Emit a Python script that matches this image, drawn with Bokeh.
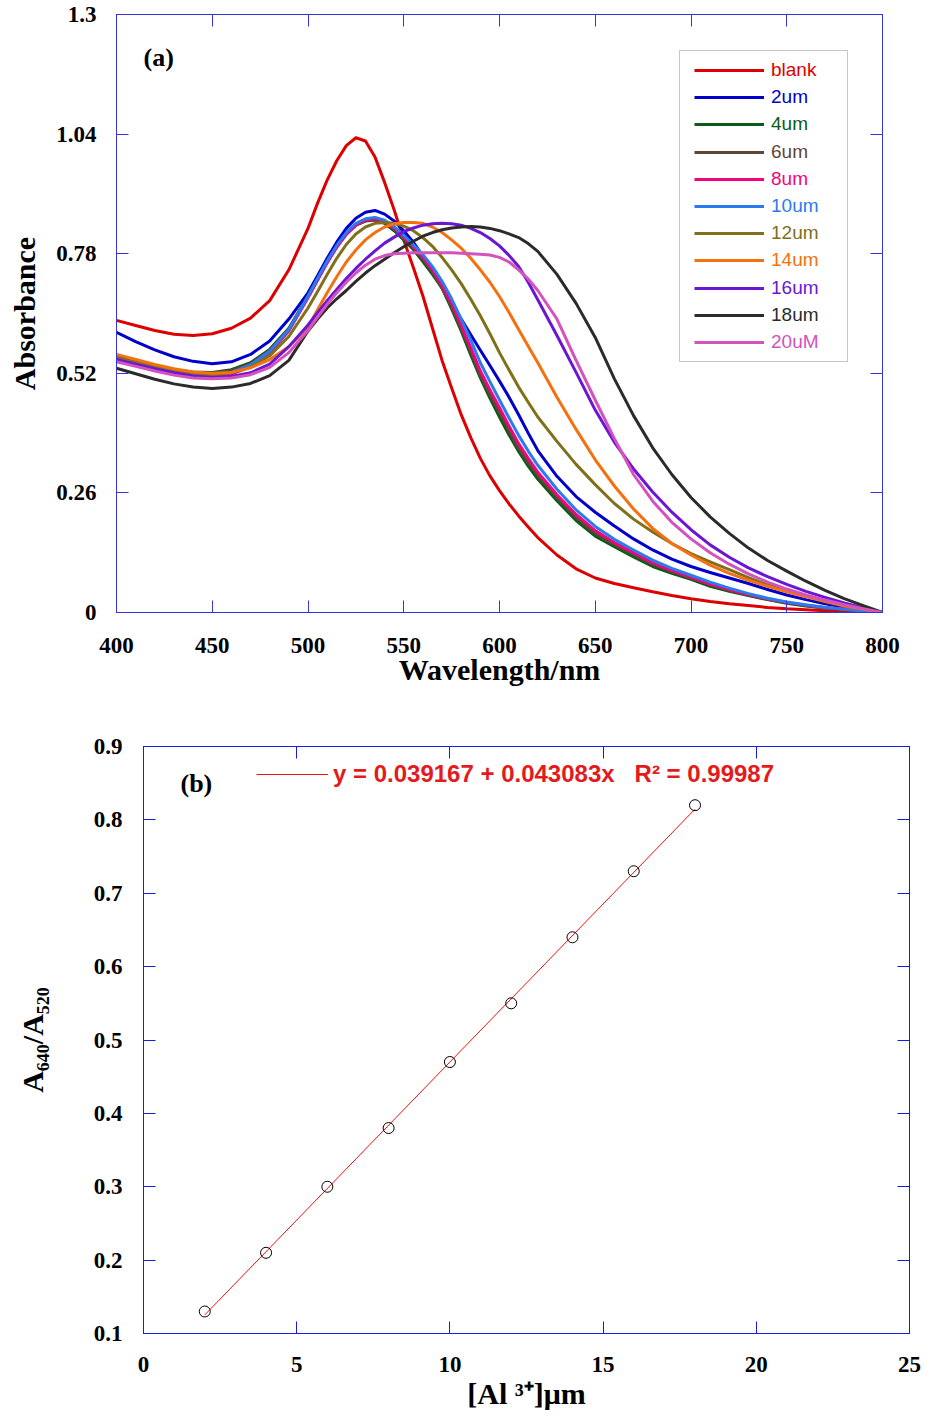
from bokeh.plotting import figure
from bokeh.models import (LinearAxis, FixedTicker, CustomJSTickFormatter, Label,
                          Legend, LegendItem, BoxAnnotation, ColumnDataSource)
from bokeh.layouts import column
from bokeh.embed import file_html
from bokeh.resources import INLINE

# ---------------- data : panel (a) ----------------
wavelength = [400, 410, 420, 430, 440, 450, 460, 470, 480, 490,
              500, 505, 510, 515, 520, 525, 530, 535, 540, 545, 550, 555, 560, 565, 570,
              575, 580, 585, 590, 595, 600, 605, 610, 615, 620,
              630, 640, 650, 660, 670, 680, 690, 700, 710, 720, 730, 740, 750, 760, 770,
              780, 790, 800]

series_names = ["blank", "2um", "4um", "6um", "8um", "10um", "12um", "14um", "16um", "18um", "20uM"]
series_colors = ["#dd0000", "#0000cc", "#0a5c16", "#5e4639", "#f0047f", "#2b7bf0",
                 "#80701a", "#f5700f", "#6a17d4", "#2b2b2b", "#d452be"]

blank = [0.635, 0.624, 0.613, 0.605, 0.602, 0.606, 0.618, 0.640, 0.678, 0.745,
         0.835, 0.890, 0.940, 0.982, 1.015, 1.032, 1.025, 0.990, 0.935, 0.875, 0.810, 0.750,
         0.688, 0.618, 0.548, 0.488, 0.430, 0.380, 0.335, 0.297, 0.265, 0.236, 0.210, 0.186,
         0.163,
         0.125, 0.095, 0.075, 0.063, 0.054, 0.045, 0.037, 0.030, 0.024, 0.019, 0.015, 0.011,
         0.008, 0.006, 0.004, 0.003, 0.0015, 0.0]
um2 = [0.609, 0.589, 0.571, 0.556, 0.546, 0.541, 0.545, 0.561, 0.590, 0.638,
       0.695, 0.732, 0.770, 0.805, 0.835, 0.857, 0.870, 0.874, 0.866, 0.851, 0.830, 0.805,
       0.775, 0.742, 0.708, 0.673, 0.638, 0.604, 0.570, 0.537, 0.503, 0.468, 0.430, 0.390,
       0.352,
       0.296, 0.252, 0.218, 0.188, 0.160, 0.136, 0.116, 0.100, 0.087, 0.075, 0.063, 0.050,
       0.038, 0.028, 0.019, 0.012, 0.006, 0.0]
um4 = [0.557, 0.546, 0.536, 0.528, 0.523, 0.522, 0.528, 0.543, 0.572, 0.618,
       0.688, 0.726, 0.763, 0.796, 0.823, 0.842, 0.851, 0.853, 0.846, 0.830, 0.810, 0.789,
       0.763, 0.735, 0.705, 0.660, 0.612, 0.560, 0.510, 0.466, 0.425, 0.386, 0.350, 0.318,
       0.290,
       0.243, 0.200, 0.166, 0.143, 0.121, 0.100, 0.085, 0.072, 0.057, 0.046, 0.037, 0.028,
       0.020, 0.014, 0.010, 0.007, 0.003, 0.0]
um6 = [0.555, 0.544, 0.534, 0.526, 0.521, 0.520, 0.526, 0.541, 0.570, 0.616,
       0.686, 0.724, 0.762, 0.795, 0.823, 0.842, 0.852, 0.854, 0.848, 0.833, 0.813, 0.793,
       0.768, 0.740, 0.705, 0.665, 0.617, 0.567, 0.515, 0.474, 0.435, 0.395, 0.357, 0.326,
       0.298,
       0.250, 0.207, 0.172, 0.148, 0.126, 0.105, 0.089, 0.075, 0.060, 0.048, 0.038, 0.029,
       0.021, 0.015, 0.010, 0.007, 0.003, 0.0]
um8 = [0.548, 0.538, 0.528, 0.520, 0.514, 0.512, 0.518, 0.534, 0.564, 0.612,
       0.684, 0.722, 0.760, 0.794, 0.822, 0.842, 0.853, 0.856, 0.850, 0.836, 0.816, 0.796,
       0.772, 0.745, 0.712, 0.672, 0.625, 0.576, 0.525, 0.484, 0.445, 0.405, 0.367, 0.335,
       0.305,
       0.256, 0.213, 0.178, 0.152, 0.130, 0.108, 0.091, 0.077, 0.062, 0.050, 0.039, 0.030,
       0.022, 0.016, 0.011, 0.007, 0.003, 0.0]
um10 = [0.552, 0.541, 0.531, 0.523, 0.518, 0.517, 0.522, 0.538, 0.568, 0.615,
        0.688, 0.726, 0.764, 0.798, 0.826, 0.846, 0.856, 0.859, 0.853, 0.839, 0.820, 0.800,
        0.778, 0.752, 0.720, 0.682, 0.638, 0.592, 0.543, 0.502, 0.462, 0.423, 0.385, 0.351,
        0.320,
        0.268, 0.223, 0.187, 0.159, 0.136, 0.114, 0.096, 0.081, 0.066, 0.053, 0.041, 0.031,
        0.023, 0.017, 0.011, 0.007, 0.003, 0.0]
um12 = [0.553, 0.543, 0.533, 0.525, 0.519, 0.517, 0.521, 0.533, 0.558, 0.600,
        0.662, 0.698, 0.735, 0.770, 0.800, 0.823, 0.838, 0.846, 0.848, 0.846, 0.840, 0.830,
        0.815, 0.796, 0.772, 0.745, 0.715, 0.681, 0.645, 0.606, 0.565, 0.527, 0.490, 0.457,
        0.425,
        0.372, 0.322, 0.278, 0.237, 0.203, 0.175, 0.150, 0.128, 0.110, 0.093, 0.076, 0.060,
        0.047, 0.037, 0.026, 0.016, 0.008, 0.0]
um14 = [0.561, 0.550, 0.539, 0.530, 0.523, 0.520, 0.522, 0.532, 0.550, 0.578,
        0.620, 0.658, 0.695, 0.730, 0.762, 0.788, 0.810, 0.826, 0.838, 0.845, 0.848, 0.848,
        0.846, 0.838, 0.826, 0.810, 0.792, 0.770, 0.745, 0.718, 0.687, 0.652, 0.615, 0.579,
        0.543,
        0.468, 0.398, 0.332, 0.275, 0.225, 0.183, 0.150, 0.125, 0.103, 0.085, 0.070, 0.057,
        0.045, 0.034, 0.024, 0.014, 0.007, 0.0]
um16 = [0.550, 0.540, 0.530, 0.521, 0.514, 0.511, 0.513, 0.521, 0.540, 0.578,
        0.625, 0.652, 0.678, 0.702, 0.726, 0.748, 0.768, 0.786, 0.803, 0.816, 0.828, 0.836,
        0.842, 0.845, 0.846, 0.845, 0.842, 0.835, 0.826, 0.813, 0.797, 0.776, 0.752, 0.718,
        0.680,
        0.602, 0.522, 0.440, 0.370, 0.312, 0.262, 0.218, 0.180, 0.147, 0.120, 0.097, 0.078,
        0.061, 0.046, 0.033, 0.021, 0.010, 0.0]
um18 = [0.531, 0.519, 0.507, 0.497, 0.490, 0.487, 0.490, 0.498, 0.515, 0.548,
        0.612, 0.638, 0.662, 0.682, 0.700, 0.720, 0.738, 0.754, 0.768, 0.782, 0.795, 0.807,
        0.818, 0.826, 0.832, 0.836, 0.838, 0.839, 0.838, 0.835, 0.830, 0.823, 0.815, 0.802,
        0.785,
        0.735, 0.672, 0.598, 0.508, 0.428, 0.358, 0.300, 0.250, 0.208, 0.172, 0.140, 0.113,
        0.090, 0.068, 0.048, 0.030, 0.015, 0.0]
um20 = [0.545, 0.535, 0.525, 0.516, 0.510, 0.508, 0.510, 0.517, 0.533, 0.565,
        0.613, 0.642, 0.670, 0.695, 0.718, 0.738, 0.755, 0.768, 0.776, 0.780, 0.781, 0.782,
        0.782, 0.782, 0.782, 0.782, 0.781, 0.780, 0.779, 0.777, 0.772, 0.762, 0.745, 0.725,
        0.700,
        0.638, 0.548, 0.462, 0.378, 0.300, 0.242, 0.196, 0.160, 0.130, 0.105, 0.084, 0.066,
        0.051, 0.038, 0.027, 0.017, 0.008, 0.0]

series_values = [blank, um2, um4, um6, um8, um10, um12, um14, um16, um18, um20]
for s in series_values:
    assert len(s) == len(wavelength), len(s)

a_xticks = [400, 450, 500, 550, 600, 650, 700, 750, 800]
a_yticks = [0, 0.26, 0.52, 0.78, 1.04, 1.3]

# ---------------- data : panel (b) ----------------
conc = [2, 4, 6, 8, 10, 12, 14, 16, 18]
ratio = [0.13, 0.21, 0.30, 0.38, 0.47, 0.55, 0.64, 0.73, 0.82]
fit_intercept = 0.039167
fit_slope = 0.043083
fit_r2 = 0.99987
b_xticks = [0, 5, 10, 15, 20, 25]
b_yticks = [0.1, 0.2, 0.3, 0.4, 0.5, 0.6, 0.7, 0.8, 0.9]

SERIF = "Liberation Serif"
SANS = "Liberation Sans"
TICK_FS = "23px"
RED = "#e41a1c"


def style_main_axis(ax, color, ticks, fmt_code, standoff):
    ax.ticker = FixedTicker(ticks=ticks)
    ax.formatter = CustomJSTickFormatter(code=fmt_code)
    ax.axis_line_color = color
    ax.major_tick_line_color = color
    ax.major_tick_in = 12
    ax.major_tick_out = 0
    ax.minor_tick_line_color = None
    ax.major_label_text_font = SERIF
    ax.major_label_text_font_style = "bold"
    ax.major_label_text_font_size = TICK_FS
    ax.major_label_text_color = "black"
    ax.major_label_standoff = standoff
    ax.axis_label_text_font = SERIF
    ax.axis_label_text_font_style = "bold"
    ax.axis_label_text_font_size = "30px"
    ax.axis_label_text_color = "black"


def add_mirror_axis(p, place, color, ticks):
    ax = LinearAxis(ticker=FixedTicker(ticks=ticks),
                    formatter=CustomJSTickFormatter(code="return '';"))
    ax.axis_line_color = color
    ax.major_tick_line_color = color
    ax.major_tick_in = 12
    ax.major_tick_out = 0
    ax.minor_tick_line_color = None
    ax.major_label_text_font_size = "0px"
    ax.major_label_standoff = 0
    p.add_layout(ax, place)


# ================= panel (a) =================
A_COL = "#3434d8"
p1 = figure(frame_width=766, frame_height=598, x_range=(400, 800), y_range=(0, 1.3),
            output_backend="svg", toolbar_location=None,
            min_border_left=116, min_border_right=43, min_border_top=14, min_border_bottom=78)
p1.frame_align = False
p1.grid.visible = False
p1.outline_line_color = A_COL
p1.background_fill_color = "white"
p1.border_fill_color = "white"

style_main_axis(p1.xaxis[0], A_COL, a_xticks, "return tick.toFixed(0);", 25)
style_main_axis(p1.yaxis[0], A_COL, a_yticks,
                "return tick == 0 ? '0' : (Math.round(tick*100)/100).toString();", 20)
p1.xaxis.axis_label = "Wavelength/nm"
p1.yaxis.axis_label = "Absorbance"
p1.xaxis.axis_label_standoff = -3
p1.yaxis.axis_label_standoff = 12
add_mirror_axis(p1, "above", A_COL, a_xticks)
add_mirror_axis(p1, "right", A_COL, a_yticks)

src = ColumnDataSource(dict(wl=wavelength, **{n: v for n, v in zip(series_names, series_values)}))
renderers = []
for n, c in zip(series_names, series_colors):
    r = p1.line(x="wl", y=n, source=src, line_width=3, line_color=c, line_join="round")
    renderers.append(r)

# legend box + one legend per entry (each with its own text colour)
p1.add_layout(BoxAnnotation(left=563, right=731, bottom=251, top=562,
                            left_units="screen", right_units="screen",
                            top_units="screen", bottom_units="screen",
                            fill_alpha=0, line_color="#444444", line_width=1))
for i, (n, c, r) in enumerate(zip(series_names, series_colors, renderers)):
    leg = Legend(items=[LegendItem(label=n, renderers=[r])], location=(578, 531 - 27.2 * i),
                 padding=0, spacing=0, margin=0, border_line_color=None,
                 background_fill_alpha=0, glyph_width=70, glyph_height=20,
                 label_height=20, label_standoff=7, label_text_color=c,
                 label_text_font=SANS, label_text_font_size="19px")
    p1.add_layout(leg)

p1.add_layout(Label(x=27, y=555, x_units="screen", y_units="screen", text="(a)",
                    text_font=SERIF, text_font_style="bold", text_font_size="26px",
                    text_color="black", text_baseline="alphabetic"))

# ================= panel (b) =================
B_COL = "#1a1ae6"
p2 = figure(frame_width=766, frame_height=587, x_range=(0, 25), y_range=(0.1, 0.9),
            output_backend="svg", toolbar_location=None,
            min_border_left=143, min_border_right=16, min_border_top=56, min_border_bottom=81)
p2.frame_align = False
p2.grid.visible = False
p2.outline_line_color = B_COL
p2.background_fill_color = "white"
p2.border_fill_color = "white"
style_main_axis(p2.xaxis[0], B_COL, b_xticks, "return tick.toFixed(0);", 23)
style_main_axis(p2.yaxis[0], B_COL, b_yticks, "return tick.toFixed(1);", 21)
p2.xaxis.axis_label = "[Al \u00b3\u207a]\u03bcm"
p2.yaxis.axis_label = "A\u2086\u2084\u2080/A\u2085\u2082\u2080"
p2.xaxis.axis_label_standoff = 2
p2.yaxis.axis_label_standoff = 42
add_mirror_axis(p2, "above", B_COL, b_xticks)
add_mirror_axis(p2, "right", B_COL, b_yticks)

fit_x = [min(conc), max(conc)]
fit_y = [fit_intercept + fit_slope * v for v in fit_x]
fit_r = p2.line(x=fit_x, y=fit_y, line_color="#ee1111", line_width=1)
p2.scatter(x=conc, y=ratio, marker="circle", size=11, fill_color=None,
           line_color="black", line_width=1)

fit_label = "y = %.6f + %.6fx   R\u00b2 = %.5f" % (fit_intercept, fit_slope, fit_r2)
p2.add_layout(Legend(items=[LegendItem(label=fit_label, renderers=[fit_r])], location=(113, 545),
                     padding=0, spacing=0, margin=0, border_line_color=None,
                     background_fill_alpha=0, glyph_width=72, glyph_height=20,
                     label_height=20, label_standoff=5, label_text_color=RED,
                     label_text_font=SANS, label_text_font_style="bold",
                     label_text_font_size="24px"))

p2.add_layout(Label(x=37, y=550, x_units="screen", y_units="screen", text="(b)",
                    text_font=SERIF, text_font_style="bold", text_font_size="26px",
                    text_color="black", text_baseline="alphabetic"))

layout = column(p1, p2)
open("out.html", "w").write(file_html(layout, INLINE))
